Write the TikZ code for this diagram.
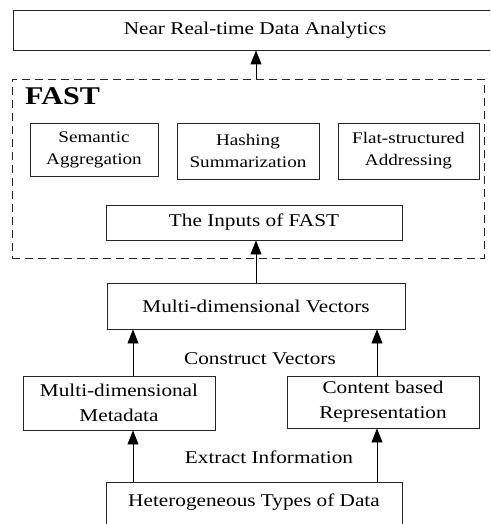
\documentclass[tikz,border=0pt]{standalone}
\usepackage{fontspec}
\setmainfont{Liberation Serif}[FakeStretch=1.18]
\usetikzlibrary{arrows.meta}
\begin{document}
\begin{tikzpicture}[x=1pt,y=-1pt,
  box/.style={draw=black!85,line width=0.9pt,rectangle,inner sep=0pt,align=center,
    font=\fontsize{18}{25}\selectfont},
  smallbox/.style={box,font=\fontsize{16.2}{22}\selectfont},
  lbl/.style={inner sep=0pt,font=\fontsize{18}{25}\selectfont},
  arr/.style={line width=0.9pt,-{Triangle[length=14pt,width=11pt]}},
  dashbox/.style={draw=black!85,line width=0.9pt,dash pattern=on 8pt off 5pt,rectangle,inner sep=0pt}]
\clip (0,0) rectangle (490,524);
\node[box,minimum width=480pt,minimum height=40pt] (top) at (253,30) {};
\node[lbl] (toptext) at (255,30) {Near Real-time Data Analytics};
\node[dashbox,minimum width=472pt,minimum height=179pt] (fast) at (248,168.5) {};
\node[inner sep=0pt,anchor=base west,font=\fontsize{25.5}{28}\selectfont\bfseries] (fastlbl) at (25,105) {FAST};
\node[smallbox,minimum width=128pt,minimum height=53pt] (sem) at (94,149.5) {Semantic\\Aggregation};
\node[smallbox,minimum width=142pt,minimum height=56pt] (hash) at (248,151) {Hashing\\Summarization};
\node[smallbox,minimum width=141pt,minimum height=56pt] (flat) at (408.5,151) {Flat-structured\\Addressing};
\node[box,minimum width=296pt,minimum height=35pt] (inputs) at (254,222.5) {The Inputs of FAST};
\node[box,minimum width=298pt,minimum height=46pt] (mdv) at (256,306) {Multi-dimensional Vectors};
\node[box,minimum width=192pt,minimum height=54pt] (meta) at (119,403) {Multi-dimensional\\Metadata};
\node[box,minimum width=192pt,minimum height=52pt] (cont) at (383,402) {Content based\\Representation};
\node[box,minimum width=296pt,minimum height=44pt] (hetero) at (254,504) {};
\node[lbl] (heterotext) at (254,502) {Heterogeneous Types of Data};
\node[lbl] (construct) at (260,359) {Construct Vectors};
\node[lbl] (extract) at (269,457) {Extract Information};
\coordinate (ax) at (256,0);
\coordinate (lx) at (133,0);
\coordinate (rx) at (377,0);
\draw[arr] (fast.north -| ax) -- (top.south -| ax);
\draw[arr] (mdv.north -| ax) -- (inputs.south -| ax);
\draw[arr] (meta.north -| lx) -- (mdv.south -| lx);
\draw[arr] (cont.north -| rx) -- (mdv.south -| rx);
\draw[arr] (hetero.north -| lx) -- (meta.south -| lx);
\draw[arr] (hetero.north -| rx) -- (cont.south -| rx);
\end{tikzpicture}
\end{document}
